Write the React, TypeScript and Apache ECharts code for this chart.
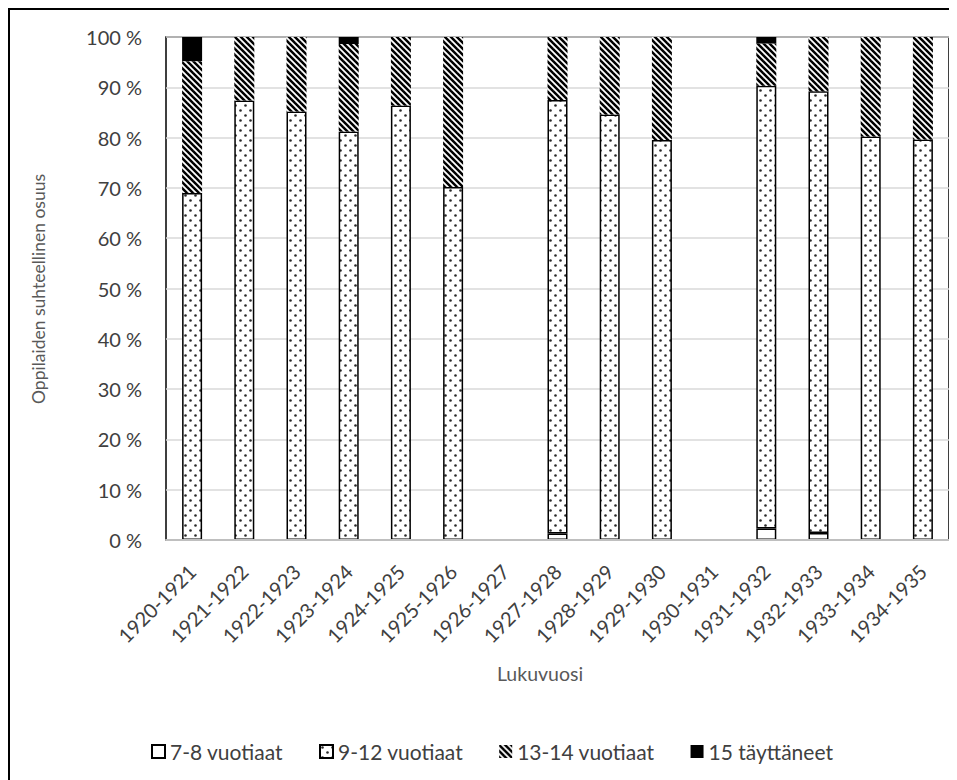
import React, { useEffect, useRef } from "react";
import * as echarts from "echarts";

const categories = [
  "1920-1921", "1921-1922", "1922-1923", "1923-1924", "1924-1925",
  "1925-1926", "1926-1927", "1927-1928", "1928-1929", "1929-1930",
  "1930-1931", "1931-1932", "1932-1933", "1933-1934", "1934-1935",
];
const age7to8 = [null, null, null, null, null, null, null, 1.3, null, null, null, 2.3, 1.4, null, null];
const age9to12 = [69.0, 87.4, 85.2, 81.2, 86.4, 70.2, null, 86.2, 84.6, 79.5, null, 88.0, 87.8, 80.2, 79.6];
const age13to14 = [26.2, 12.6, 14.8, 17.4, 13.6, 29.8, null, 12.5, 15.4, 20.5, null, 8.4, 10.8, 19.8, 20.4];
const age15plus = [4.8, null, null, 1.4, null, null, null, null, null, null, null, 1.3, null, null, null];
const seriesNames = ["7-8 vuotiaat", "9-12 vuotiaat", "13-14 vuotiaat", "15 täyttäneet"];
const yTicks = { min: 0, max: 100, interval: 10 };

const FONT = "Lato, 'Open Sans', sans-serif";
const LABEL = "#404040";
const TITLE = "#595959";

function dotPattern(): HTMLCanvasElement {
  const c = document.createElement("canvas");
  c.width = 10;
  c.height = 10;
  const g = c.getContext("2d")!;
  g.fillStyle = "#ffffff";
  g.fillRect(0, 0, 10, 10);
  g.fillStyle = "#2a2a2a";
  g.beginPath();
  g.arc(2.5, 2.5, 1.3, 0, Math.PI * 2);
  g.fill();
  g.beginPath();
  g.arc(7.5, 7.5, 1.3, 0, Math.PI * 2);
  g.fill();
  return c;
}

function hatchPattern(): HTMLCanvasElement {
  const s = 6;
  const c = document.createElement("canvas");
  c.width = s;
  c.height = s;
  const g = c.getContext("2d")!;
  g.fillStyle = "#ffffff";
  g.fillRect(0, 0, s, s);
  g.strokeStyle = "#000000";
  g.lineWidth = 2.5;
  for (let k = -1; k <= 1; k++) {
    g.beginPath();
    g.moveTo(k * s - 1, -1);
    g.lineTo(k * s + s + 1, s + 1);
    g.stroke();
  }
  return c;
}

export default function App() {
  const ref = useRef<HTMLDivElement>(null);
  useEffect(() => {
    if (!ref.current) return;
    const chart = echarts.init(ref.current, undefined, { renderer: "svg" });
    const dots = { image: dotPattern(), repeat: "repeat" };
    const hatch = { image: hatchPattern(), repeat: "repeat" };
    const common = { type: "bar", stack: "all", barWidth: 20 };
    chart.setOption({
      animation: false,
      textStyle: { fontFamily: FONT },
      grid: {
        left: 158, top: 29, right: 8, bottom: 240,
        show: true, borderColor: "#000", borderWidth: 1.5, backgroundColor: "transparent",
      },
      legend: {
        left: 138, top: 728,
        itemWidth: 13, itemHeight: 13, itemGap: 36,
        icon: "rect",
        textStyle: { color: LABEL, fontSize: 21, fontFamily: FONT },
        data: seriesNames,
      },
      xAxis: {
        type: "category",
        data: categories,
        axisLine: { show: true, lineStyle: { color: "#bfbfbf", width: 2 } },
        axisTick: { show: false },
        axisLabel: {
          rotate: 45, color: LABEL, fontSize: 20, fontFamily: FONT, margin: 28,
          interval: 0, verticalAlign: "middle",
        },
        splitLine: { show: false },
        z: 5,
      },
      yAxis: {
        type: "value",
        min: yTicks.min, max: yTicks.max, interval: yTicks.interval,
        axisLine: { show: false },
        axisTick: { show: false },
        axisLabel: { formatter: "{value} %", color: LABEL, fontSize: 20, fontFamily: FONT, margin: 24 },
        splitLine: { lineStyle: { color: "#d9d9d9", width: 1.5 } },
      },
      graphic: [
        { type: "line", shape: { x1: 1, y1: 1, x2: 1, y2: 900 }, style: { stroke: "#000", lineWidth: 2 } },
        { type: "line", shape: { x1: 0, y1: 1, x2: 1000, y2: 1 }, style: { stroke: "#000", lineWidth: 2 } },
        {
          type: "text", x: 30, y: 281, rotation: Math.PI / 2,
          style: { text: "Oppilaiden suhteellinen osuus", fill: TITLE, font: `17.5px ${FONT}`, textAlign: "center", textVerticalAlign: "middle" },
        },
        {
          type: "text", x: 532, y: 665,
          style: { text: "Lukuvuosi", fill: TITLE, font: `19.5px ${FONT}`, textAlign: "center", textVerticalAlign: "middle" },
        },
      ],
      series: [
        { ...common, name: seriesNames[0], data: age7to8, itemStyle: { color: "#ffffff", borderColor: "#000", borderWidth: 1.5 } },
        { ...common, name: seriesNames[1], data: age9to12, itemStyle: { color: dots, borderColor: "#000", borderWidth: 1.5 } },
        { ...common, name: seriesNames[2], data: age13to14, itemStyle: { color: hatch, borderWidth: 0 } },
        { ...common, name: seriesNames[3], data: age15plus, itemStyle: { color: "#000000", borderWidth: 0 } },
      ],
    });
    return () => chart.dispose();
  }, []);
  return <div ref={ref} style={{ width: 949, height: 772 }} />;
}
